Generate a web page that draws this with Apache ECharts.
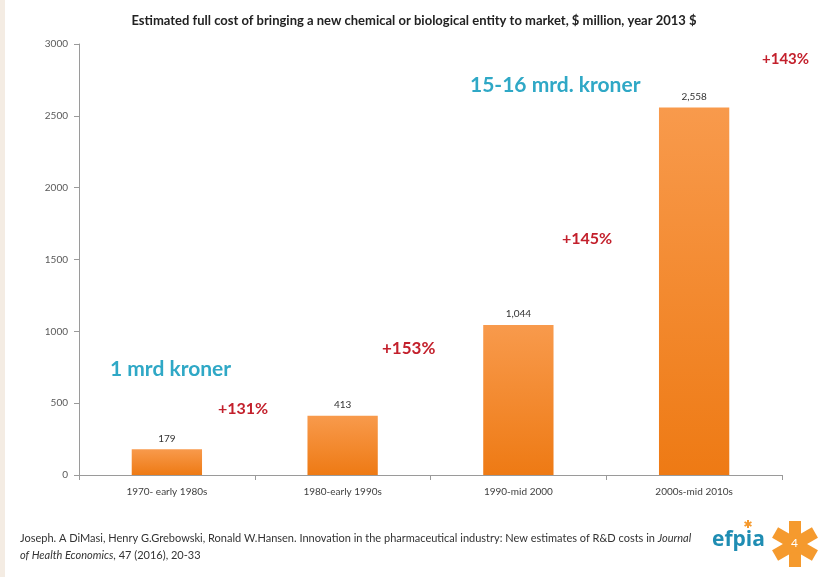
<!DOCTYPE html>
<html><head><meta charset="utf-8">
<script src="https://cdn.jsdelivr.net/npm/echarts@6/dist/echarts.min.js"></script>
<style>html,body{margin:0;padding:0;background:#fff}#c{width:828px;height:577px}</style>
</head><body><div id="c"></div>
<script>
var categories = ['1970- early 1980s', '1980-early 1990s', '1990-mid 2000', '2000s-mid 2010s'];
var costs = [179, 413, 1044, 2558];
var yTicks = [0, 500, 1000, 1500, 2000, 2500, 3000];
var growthLabels = ['+131%', '+153%', '+145%', '+143%'];
var titleText = 'Estimated full cost of bringing a new chemical or biological entity to market, $ million, year 2013 $';
var krLow = '1 mrd kroner';
var krHigh = '15-16 mrd. kroner';

var chart = echarts.init(document.getElementById('c'), null, {renderer: 'canvas'});
var F = 'Lato, "Open Sans", sans-serif';
function fmt(v){ return v.toLocaleString('en-US'); }

function star(cx, cy, r, w) {
  var arms = [];
  for (var i = 0; i < 3; i++) {
    arms.push({type: 'rect', x: cx - w/2, y: cy - r, shape: {x: 0, y: 0, width: w, height: 2*r},
      originX: w/2, originY: r, rotation: i * Math.PI / 3, style: {fill: '#f59a2e'}});
  }
  return arms;
}

var graphics = [
  {type: 'rect', left: 0, top: 0, shape: {width: 5, height: 577}, style: {fill: '#f4ece3'}},
  {type: 'text', left: 110, top: 359, style: {text: krLow, fill: '#2fa8c6', font: 'bold 21px ' + F}},
  {type: 'text', left: 470, top: 75, style: {text: krHigh, fill: '#2fa8c6', font: 'bold 21px ' + F}},
  {type: 'text', left: 218, top: 401, style: {text: growthLabels[0], fill: '#c3202c', font: 'bold 16px ' + F}},
  {type: 'text', left: 382, top: 340, style: {text: growthLabels[1], fill: '#c3202c', font: 'bold 17px ' + F}},
  {type: 'text', left: 562, top: 231, style: {text: growthLabels[2], fill: '#c3202c', font: 'bold 16px ' + F}},
  {type: 'text', left: 762, top: 52, style: {text: growthLabels[3], fill: '#c3202c', font: 'bold 15px ' + F}},
  {type: 'text', left: 20, top: 533, style: {rich: {a: {fill: '#333', font: '11px ' + F}, i: {fill: '#333', font: 'italic 11px ' + F}},
    text: '{a|Joseph. A DiMasi, Henry G.Grebowski, Ronald W.Hansen. Innovation in the pharmaceutical industry: New estimates of R&D costs in }{i|Journal}'}},
  {type: 'text', left: 20, top: 550, style: {rich: {i: {fill: '#333', font: 'italic 11px ' + F}, a: {fill: '#333', font: '11px ' + F}},
    text: '{i|of Health Economics}{a|, 47 (2016), 20-33}'}},
  {type: 'text', left: 712, top: 530, style: {text: 'efpia', fill: '#1f8db3', font: 'bold 21px "Open Sans", sans-serif'}},
  {type: 'group', children: star(748, 524, 4, 2)},
  {type: 'group', children: star(795, 544, 23, 12)},
  {type: 'text', left: 791, top: 537, style: {text: '4', fill: '#fff', font: '12px ' + F}}
];

chart.setOption({
  animation: false,
  backgroundColor: '#fff',
  title: {text: titleText, left: 'center', top: 9,
    textStyle: {fontFamily: F, fontSize: 13, fontWeight: 'bold', color: '#222'}},
  grid: {left: 79, right: 46, top: 44, bottom: 102, containLabel: false},
  xAxis: {type: 'category', data: categories,
    axisLine: {lineStyle: {color: '#9a9a9a'}},
    axisTick: {show: true, lineStyle: {color: '#9a9a9a'}, length: 5},
    axisLabel: {color: '#404040', fontFamily: F, fontSize: 10, margin: 12}},
  yAxis: {type: 'value', min: yTicks[0], max: yTicks[yTicks.length-1], interval: 500,
    axisLine: {show: true, lineStyle: {color: '#9a9a9a'}},
    axisTick: {show: true, lineStyle: {color: '#9a9a9a'}, length: 5},
    splitLine: {show: false},
    axisLabel: {color: '#595959', fontFamily: F, fontSize: 10, margin: 11,
      formatter: function(v){ return String(v); }}},
  series: [{type: 'bar', data: costs, barWidth: '40%',
    itemStyle: {color: new echarts.graphic.LinearGradient(0, 0, 0, 1, [
      {offset: 0, color: '#f89a4c'}, {offset: 1, color: '#ee7a14'}])},
    label: {show: true, position: 'top', distance: 6, color: '#333', fontFamily: F, fontSize: 10,
      formatter: function(p){ return fmt(p.value); }}}],
  graphic: graphics
});
</script></body></html>
